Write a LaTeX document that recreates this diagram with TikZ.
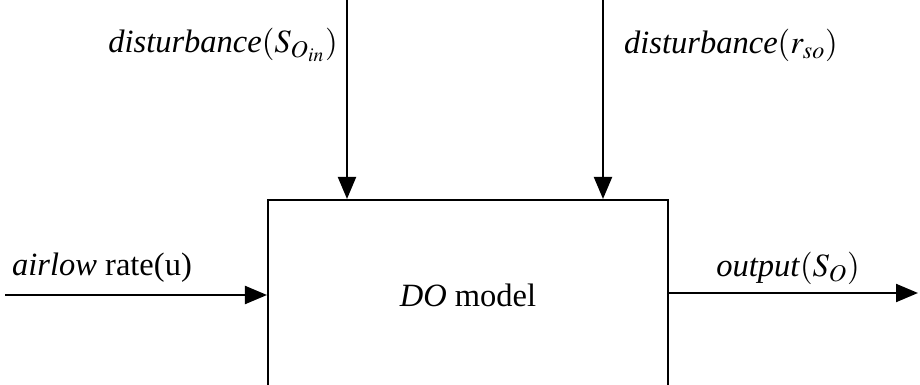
\documentclass[tikz,border=0pt]{standalone}
\usepackage{mathptmx}
\usepackage[no-math]{fontspec}
\setmainfont{Liberation Serif}
\usetikzlibrary{positioning, arrows.meta}

\begin{document}
\begin{tikzpicture}[
    x=0.02cm, y=-0.02cm,
    block/.style={draw, line width=1.2pt, minimum width=8cm, minimum height=3.8cm,
                  inner sep=0pt, font=\fontsize{18.5}{21}\selectfont},
    lbl/.style={font=\fontsize{18.5}{21}\selectfont, inner sep=1pt},
    arr/.style={-{Triangle[length=4.4mm, width=3.6mm]}, line width=1.2pt}
  ]
    \useasboundingbox (0,0) rectangle (920,385);
    \clip (0,0) rectangle (920,385);

    \node[block] (model) at (468,295) {\textit{DO} model};

    % free ends
    \coordinate (sin) at (347,0);
    \coordinate (rso) at (603,0);
    \coordinate (u) at (5,295);
    \coordinate (so) at (918,293);

    \node[lbl] (lsin) at (223,45) {\textit{disturbance}$(S_{O_{in}})$};
    \node[lbl] (lrso) at (731,45) {\textit{disturbance}$(r_{so})$};
    \node[lbl] (lu) at (102,268) {\textit{airlow} rate(u)};
    \node[lbl] (lso) at (788,268) {\textit{output}$(S_O)$};

    \draw[arr] (sin) -- (sin |- model.north);
    \draw[arr] (rso) -- (rso |- model.north);
    \draw[arr] (u) -- (model.west);
    \draw[arr] (model.east |- so) -- (so);
  \end{tikzpicture}
\end{document}
